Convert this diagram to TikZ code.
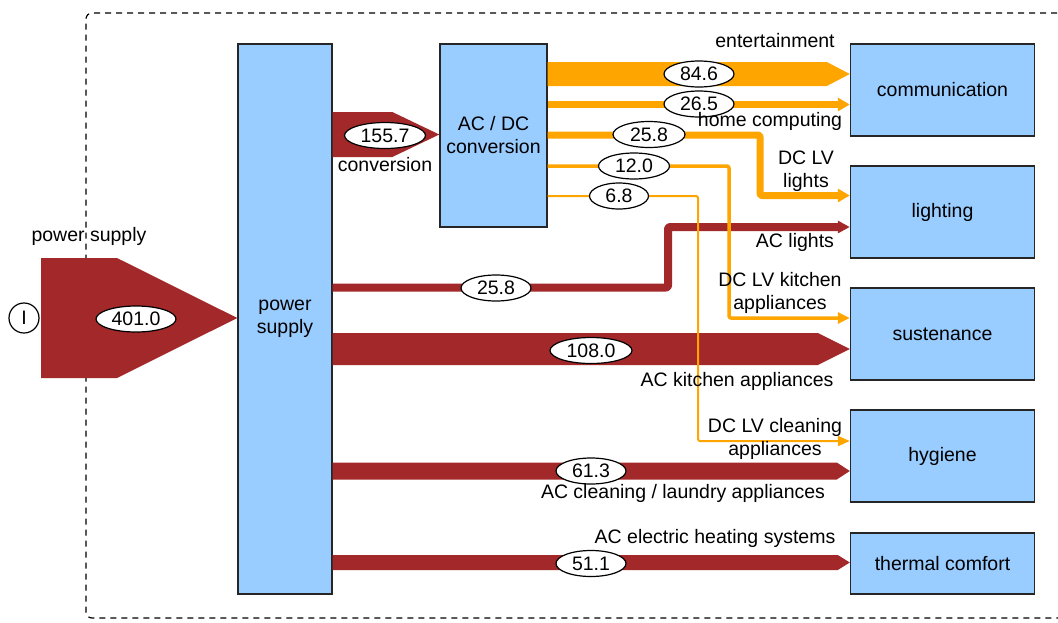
\documentclass[tikz,border=0pt]{standalone}
\usepackage{fontspec}
\setmainfont{Liberation Sans}
\usetikzlibrary{arrows.meta,calc,shapes.geometric}
\definecolor{flowred}{HTML}{A3282A}
\definecolor{floworange}{HTML}{FFA500}
\definecolor{boxblue}{HTML}{99CCFF}
\newcommand\fsz{\fontsize{19.5}{23}\selectfont}
% #1 start coordinate name, #2 tip coordinate name, #3 band width, #4 head length, #5 colour
\newcommand\flowband[5]{%
  \fill[#5] ($(#1)+(0,-#3/2)$) -- ($(#2)+(-#4,-#3/2)$) -- (#2) --
    ($(#2)+(-#4,#3/2)$) -- ($(#1)+(0,#3/2)$) -- cycle;}
\begin{document}
\begin{tikzpicture}[x=1pt,y=-1pt,
  every node/.style={font=\fsz},
  box/.style={draw=black!85,line width=1.4pt,fill=boxblue,inner sep=0pt,align=center},
  num/.style={ellipse,draw=black,line width=1.2pt,fill=white,inner sep=0pt,
    minimum height=26pt,minimum width=70pt},
  lbl/.style={align=center,inner sep=0pt},
  thinflow/.style={line join=round,rounded corners=2pt},
  ]
\useasboundingbox (0,0) rectangle (1058,622);

% dashed system border
\draw[dash pattern=on 6pt off 5pt,line width=1.2pt,rounded corners=6pt]
  (1090,13) -- (86,13) -- (86,618) -- (1090,618);

% boxes
\node[box,minimum width=94pt,minimum height=550pt] (ps) at (285,319) {power\\supply};
\node[box,minimum width=107pt,minimum height=183pt] (acdc) at (493.5,135.5) {AC / DC\\conversion};
\node[box,minimum width=184pt,minimum height=92pt] (comm) at (942.5,90) {communication};
\node[box,minimum width=184pt,minimum height=92pt] (light) at (942.5,212) {lighting};
\node[box,minimum width=184pt,minimum height=92pt] (sust) at (942.5,334) {sustenance};
\node[box,minimum width=184pt,minimum height=92pt] (hyg) at (942.5,456) {hygiene};
\node[box,minimum width=184pt,minimum height=61pt] (therm) at (942.5,563.5) {thermal comfort};

% input
\node[circle,draw=black,line width=1.2pt,minimum size=30pt,inner sep=0pt] (in) at (24,318) {I};
\fill[flowred] (41,258) -- (117,258) -- (ps.west |- in) -- (117,378) -- (41,378) -- cycle;

% flow coordinates
\coordinate (cvS) at (ps.east |- 0,134.5);   \coordinate (cvE) at (acdc.west |- 0,134.5);
\coordinate (enS) at (acdc.east |- 0,74);    \coordinate (enE) at (comm.west |- 0,74);
\coordinate (kaS) at (ps.east |- 0,349);     \coordinate (kaE) at (sust.west |- 0,349);
\coordinate (clS) at (ps.east |- 0,471);     \coordinate (clE) at (hyg.west |- 0,471);
\coordinate (heS) at (ps.east |- 0,562.5);   \coordinate (heE) at (therm.west |- 0,562.5);

% red (AC) flows
\flowband{cvS}{cvE}{45}{47}{flowred}
\flowband{kaS}{kaE}{32}{32}{flowred}
\flowband{clS}{clE}{17}{13}{flowred}
\flowband{heS}{heE}{15}{12}{flowred}
\draw[flowred,line width=8pt,thinflow,-{Triangle[length=12pt,width=12pt]}]
  (ps.east |- 0,287.5) -- (668,287.5) -- (668,227) -- (light.west |- 0,227);

% orange (DC) flows
\flowband{enS}{enE}{24}{23}{floworange}
\draw[floworange,line width=7pt,thinflow,-{Triangle[length=12pt,width=13pt]}]
  (acdc.east |- 0,104.5) -- (comm.west |- 0,104.5);
\draw[floworange,line width=7pt,thinflow,-{Triangle[length=12pt,width=13pt]}]
  (acdc.east |- 0,135) -- (760,135) -- (760,195.5) -- (light.west |- 0,195.5);
\draw[floworange,line width=3.5pt,thinflow,-{Triangle[length=12pt,width=11pt]}]
  (acdc.east |- 0,166) -- (729,166) -- (729,318) -- (sust.west |- 0,318);
\draw[floworange,line width=2pt,thinflow,-{Triangle[length=12pt,width=10pt]}]
  (acdc.east |- 0,196) -- (698,196) -- (698,441) -- (hyg.west |- 0,441);

% value ellipses
\node[num,minimum width=80pt] (v401) at (136,319) {401.0};
\node[num,minimum width=81pt] (v155) at (385,135.5) {155.7};
\node[num] (v846) at (699,74) {84.6};
\node[num] (v265) at (699,104) {26.5};
\node[num,minimum width=72pt] (v258o) at (649,134.5) {25.8};
\node[num,minimum width=71pt] (v120) at (634,166) {12.0};
\node[num,minimum width=59pt] (v68) at (619,196) {6.8};
\node[num] (v258r) at (496,288) {25.8};
\node[num,minimum width=82pt] (v108) at (591,350.5) {108.0};
\node[num] (v613) at (591,471) {61.3};
\node[num] (v511) at (591,563.5) {51.1};

% labels
\node[lbl] (lps) at (89,236) {power supply};
\node[lbl] (lcv) at (385,165) {conversion};
\node[lbl] (lent) at (775,41) {entertainment};
\node[lbl] (lhc) at (770,121) {home computing};
\node[lbl] (ldcl) at (806,171) {DC LV\\lights};
\node[lbl] (lacl) at (795,242) {AC lights};
\node[lbl] (ldck) at (780,293) {DC LV kitchen\\appliances};
\node[lbl] (lack) at (737,381) {AC kitchen appliances};
\node[lbl] (ldcc) at (775,439) {DC LV cleaning\\appliances};
\node[lbl] (lacc) at (683,493) {AC cleaning / laundry appliances};
\node[lbl] (lach) at (715,538) {AC electric heating systems};
\end{tikzpicture}
\end{document}
